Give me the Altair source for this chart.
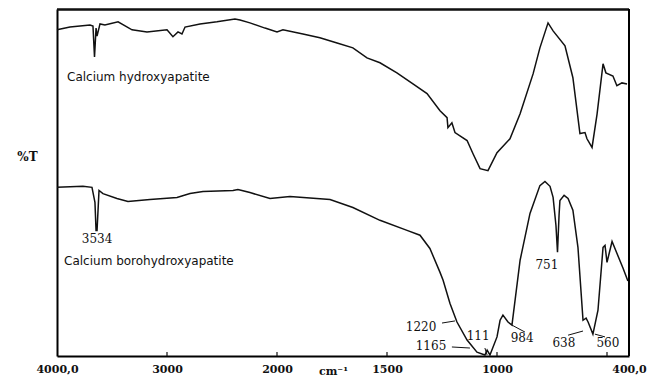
import altair as alt
import pandas as pd

# Calcium hydroxyapatite spectrum (wavenumber cm-1, %T arbitrary)
top_wn = [4000, 3882, 3700, 3673, 3659, 3645, 3636, 3609, 3564, 3445, 3318, 3182, 3000, 2946, 2900, 2864,
          2836, 2700, 2546, 2382, 2336, 2246, 2109, 2000, 1973, 1882, 1805, 1727, 1655, 1591, 1532, 1455,
          1382, 1318, 1259, 1227, 1223, 1205, 1191, 1136, 1109, 1077, 1041, 1000, 941, 895, 836, 805, 768,
          745, 691, 655, 623, 600, 591, 568, 545, 518, 505, 473, 455, 432, 409]
top_t = [94.0, 94.8, 95.4, 95.1, 86.2, 94.5, 92.2, 95.7, 95.4, 96.3, 94.0, 93.4, 94.0, 92.0, 93.4, 92.8,
         94.8, 95.7, 96.3, 97.1, 96.8, 96.0, 94.5, 93.4, 94.0, 92.8, 91.7, 90.2, 88.8, 85.9, 84.5, 81.6,
         78.4, 75.6, 70.7, 68.7, 65.8, 67.2, 64.4, 62.1, 58.3, 54.0, 53.4, 58.6, 62.6, 69.8, 81.3, 88.8, 96.0,
         93.7, 89.4, 80.2, 64.1, 64.4, 62.6, 60.1, 69.8, 84.2, 81.6, 80.7, 77.9, 78.7, 78.4]

# Calcium borohydroxyapatite spectrum
bot_wn = [4000, 3764, 3682, 3655, 3645, 3636, 3618, 3582, 3455, 3355, 3155, 2909, 2791, 2673, 2400, 2355,
          2246, 2064, 1941, 1759, 1655, 1532, 1409, 1350, 1305, 1259, 1245, 1214, 1182, 1136, 1091, 1055,
          1045, 1032, 1000, 986, 973, 950, 932, 895, 850, 805, 782, 759, 745, 732, 725, 718, 714, 695, 677,
          655, 632, 609, 595, 586, 564, 541, 518, 509, 500, 477, 455, 427, 405]
bot_t = [48.6, 48.9, 48.6, 44.3, 36.2, 36.2, 47.7, 46.8, 45.4, 44.5, 45.1, 45.7, 46.8, 47.4, 47.7, 48.0,
         47.1, 45.4, 46.0, 45.1, 42.8, 39.1, 36.2, 34.8, 31.0, 24.1, 21.8, 15.2, 9.8, 4.6, 1.1, 0.3,
         1.7, 0.3, 5.5, 10.3, 11.8, 9.8, 8.9, 27.6, 41.1, 49.1, 50.3, 48.9, 45.7, 37.6, 29.9, 40.5, 44.8, 46.3, 45.4,
         42.0, 31.3, 10.3, 10.9, 9.8, 6.3, 13.2, 31.3, 31.9, 27.0, 33.0, 29.6, 25.3, 21.6]

# Peak labels
peak_labels = ["3534", "751", "1220", "1165", "111", "984", "638", "560"]
peak_wn = [3636, 773, 1345, 1300, 1086, 886, 696, 496]
peak_t = [33.6, 26.1, 8.3, 2.9, 5.7, 5.2, 3.7, 3.7]

# Leader lines for peak labels
lead_wn1 = [1250, 1205, 1055, 932, 677, 555]
lead_t1 = [9.5, 2.6, 2.3, 8.9, 6.0, 6.3]
lead_wn2 = [1191, 1123, 1045, 873, 609, 509]
lead_t2 = [10.1, 2.3, 0.3, 6.9, 7.2, 5.5]

# Sample names
name_labels = ["Calcium hydroxyapatite", "Calcium borohydroxyapatite"]
name_wn = [3909, 3936]
name_t = [80.5, 27.3]

tick_values = [4000, 3000, 2000, 1500, 1000, 500, 400]
inner_ticks = [3000, 2000, 1500, 1000, 500]

spec = pd.concat([
    pd.DataFrame({"wn": top_wn, "t": top_t, "series": "hydroxyapatite", "i": range(len(top_wn))}),
    pd.DataFrame({"wn": bot_wn, "t": bot_t, "series": "borohydroxyapatite", "i": range(len(bot_wn))}),
])
peaks = pd.DataFrame({"wn": peak_wn, "t": peak_t, "label": peak_labels})
leads = pd.DataFrame({"wn": lead_wn1, "t": lead_t1, "wn2": lead_wn2, "t2": lead_t2})
names = pd.DataFrame({"wn": name_wn, "t": name_t, "label": name_labels})
ticks = pd.DataFrame({"wn": inner_ticks})

W, H = 572, 347

xscale = alt.Scale(domain=[4000, 2000, 400], range=[0, 220, W], nice=False, zero=False)
yscale = alt.Scale(domain=[0, 100], nice=False, zero=False)

xaxis = alt.Axis(values=tick_values, format="d",
                 labelExpr="datum.value == 4000 ? '4000,0' : datum.value == 400 ? '400,0' : datum.value == 500 ? '' : datum.label",
                 ticks=False, tickSize=0, grid=False, labelFlush=False, labelOverlap=False, labelBound=False,
                 labelPadding=7, labelFont="DejaVu Serif", labelFontWeight="bold", labelFontSize=11,
                 labelColor="#111", domainColor="#000", domainWidth=2,
                 title="cm⁻¹", titleFont="DejaVu Serif", titleFontWeight="bold", titleFontSize=11,
                 titleColor="#111", titleX=276, titleY=18, titleBaseline="alphabetic", titleAlign="center")
yaxis = alt.Axis(labels=False, ticks=False, grid=False, domainColor="#000", domainWidth=2,
                 title="%T", titleAngle=0, titleX=-30, titleY=147, titleAlign="center", titleBaseline="middle",
                 titleFont="DejaVu Serif", titleFontWeight="bold", titleFontSize=12, titleColor="#111")

lines = alt.Chart(spec).mark_line(strokeWidth=1.5, color="#111").encode(
    x=alt.X("wn:Q", scale=xscale, axis=xaxis),
    y=alt.Y("t:Q", scale=yscale, axis=yaxis),
    detail="series:N",
    order="i:Q",
)

tick_marks = alt.Chart(ticks).mark_rule(color="#111", strokeWidth=1.2).encode(
    x=alt.X("wn:Q", scale=xscale),
    y=alt.value(H), y2=alt.value(H - 4),
)

frame_top = alt.Chart(ticks).mark_rule(color="#111", strokeWidth=1.5).encode(
    x=alt.value(0), x2=alt.value(W), y=alt.value(0.5))
frame_right = alt.Chart(ticks).mark_rule(color="#000", strokeWidth=2).encode(
    x=alt.value(W), y=alt.value(0), y2=alt.value(H))

peak_text = alt.Chart(peaks).mark_text(font="DejaVu Serif", fontSize=12, color="#111",
                                       align="center", baseline="middle").encode(
    x=alt.X("wn:Q", scale=xscale), y=alt.Y("t:Q", scale=yscale), text="label:N")

lead_lines = alt.Chart(leads).mark_rule(color="#111", strokeWidth=1).encode(
    x=alt.X("wn:Q", scale=xscale), x2="wn2:Q",
    y=alt.Y("t:Q", scale=yscale), y2="t2:Q")

name_text = alt.Chart(names).mark_text(font="DejaVu Sans", fontSize=12, color="#111",
                                       align="left", baseline="middle").encode(
    x=alt.X("wn:Q", scale=xscale), y=alt.Y("t:Q", scale=yscale), text="label:N")

chart = alt.layer(lines, tick_marks, frame_top, frame_right, lead_lines, peak_text, name_text).properties(
    width=W, height=H,
    autosize=alt.AutoSizeParams(type="none"),
    padding={"left": 49, "top": 1, "right": 19, "bottom": 20},
    background="white",
).configure_view(stroke=None)

chart.save("out.html", embed_options={"renderer": "svg", "actions": False})
